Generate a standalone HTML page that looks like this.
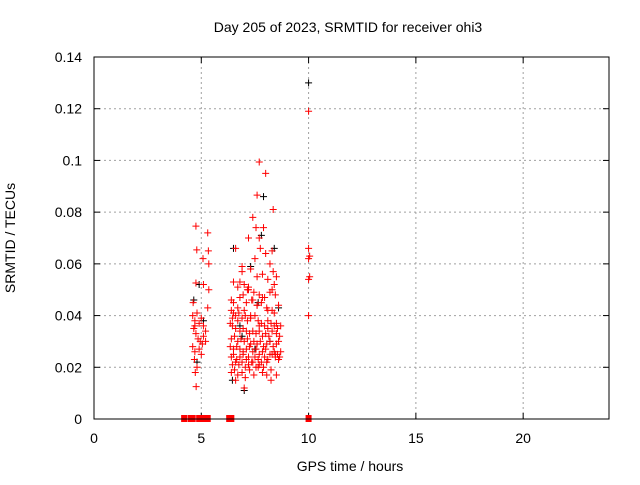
<!DOCTYPE html>
<html><head><meta charset="utf-8"><style>
body{margin:0;background:#fff;}
svg text{font-family:"Liberation Sans",sans-serif;}
</style></head><body>
<svg id="chart" width="640" height="480" xmlns="http://www.w3.org/2000/svg">
<rect width="640" height="480" fill="#fff"/>
<text x="348" y="32" font-size="14" text-anchor="middle">Day 205 of 2023, SRMTID for receiver ohi3</text>
<text x="350" y="471" font-size="14" text-anchor="middle">GPS time / hours</text>
<text transform="translate(15,238) rotate(-90)" font-size="14" text-anchor="middle">SRMTID / TECUs</text>
<g id="grid"></g>
<g id="marks"></g>
<rect x="94" y="57" width="515" height="362" fill="none" stroke="#000" stroke-width="1"/>
</svg>
<script>
const xTicks=[0,5,10,15,20];
const yTicks=[0,0.02,0.04,0.06,0.08,0.1,0.12,0.14];
const yTickLabels=["0","0.02","0.04","0.06","0.08","0.1","0.12","0.14"];
const zeroHours=[4.2,4.5,4.6,4.9,5.05,5.3,6.3,6.4,10.0];
const redHours=[4.75,4.79,5.3,5.33,5.08,5.35,4.75,5.1,5.35,4.62,5.3,4.6,4.7,4.8,4.9,5.0,5.1,5.2,4.65,4.75,4.85,4.95,5.05,4.6,4.7,4.9,5.0,5.2,4.68,4.8,5.1,4.72,4.76,4.7,
7.7,8.0,7.6,8.35,7.4,7.55,7.9,7.7,7.2,7.75,8.0,8.3,7.5,8.2,8.35,6.6,6.9,7.3,7.6,7.85,8.1,8.4,8.5,6.5,6.7,7.0,7.2,7.45,7.7,7.95,8.2,8.45,6.4,6.8,7.1,7.35,7.6,7.8,8.05,8.3,8.6,
6.4,6.5,6.6,6.75,6.9,7.05,7.15,7.3,7.5,7.65,7.8,7.95,8.1,8.25,8.4,8.55,8.7,6.35,6.45,6.6,6.8,6.95,7.1,7.25,7.4,7.55,7.7,7.85,8.0,8.15,8.3,8.5,8.65,
6.4,6.55,6.7,6.85,7.0,7.15,7.3,7.45,7.6,7.75,7.9,8.05,8.2,8.35,8.5,8.6,6.35,6.5,6.65,6.8,6.95,7.1,7.25,7.4,7.55,7.7,7.85,8.0,8.2,8.4,8.55,8.7,
6.4,6.5,6.65,6.8,6.95,7.1,7.2,7.35,7.5,7.65,7.8,7.95,8.1,8.3,8.45,8.6,6.45,6.6,6.75,6.9,7.05,7.2,7.4,7.55,7.7,7.9,8.05,8.25,8.45,8.65,
6.4,6.55,6.7,6.9,7.05,7.25,7.45,7.65,7.85,8.05,8.25,8.5,6.5,6.7,6.95,7.15,7.4,7.6,7.85,8.1,8.4,6.45,6.7,7.0,7.3,7.7,8.1,8.5,6.6,7.0,6.8,7.2,8.3,6.9,
10.0,10.0,10.05,10.0,10.05,10.0,10.0];
const redValues=[0.0746,0.0654,0.072,0.065,0.062,0.060,0.0526,0.052,0.050,0.045,0.043,0.040,0.038,0.041,0.037,0.039,0.036,0.034,0.035,0.033,0.031,0.030,0.029,0.028,0.026,0.027,0.025,0.030,0.023,0.020,0.032,0.018,0.0125,0.036,
0.0994,0.095,0.0866,0.081,0.078,0.074,0.074,0.070,0.070,0.066,0.064,0.065,0.062,0.060,0.057,0.066,0.059,0.058,0.055,0.056,0.054,0.052,0.055,0.053,0.051,0.052,0.050,0.049,0.048,0.047,0.049,0.048,0.046,0.047,0.045,0.046,0.044,0.045,0.043,0.042,0.044,
0.042,0.041,0.040,0.041,0.039,0.040,0.038,0.039,0.040,0.038,0.037,0.036,0.038,0.037,0.036,0.035,0.036,0.037,0.036,0.035,0.034,0.035,0.034,0.033,0.034,0.033,0.034,0.032,0.033,0.032,0.034,0.033,0.032,
0.031,0.032,0.030,0.031,0.030,0.031,0.029,0.030,0.029,0.030,0.028,0.029,0.030,0.028,0.029,0.030,0.028,0.027,0.028,0.027,0.026,0.027,0.028,0.026,0.027,0.025,0.026,0.027,0.025,0.026,0.025,0.026,
0.024,0.025,0.023,0.024,0.025,0.023,0.024,0.022,0.024,0.023,0.022,0.024,0.023,0.025,0.024,0.023,0.021,0.022,0.021,0.022,0.020,0.021,0.022,0.020,0.021,0.020,0.022,0.019,0.025,0.024,
0.018,0.019,0.017,0.018,0.016,0.019,0.017,0.020,0.018,0.017,0.015,0.017,0.045,0.043,0.048,0.050,0.046,0.044,0.047,0.042,0.041,0.039,0.038,0.042,0.040,0.036,0.035,0.037,0.015,0.012,0.053,0.051,0.050,0.057,
0.119,0.066,0.063,0.062,0.055,0.054,0.040];
const blackHours=[10.0,7.9,7.8,6.5,4.9,5.1,4.65,7.3,7.65,8.4,6.9,6.45,7.0,8.6,7.5,6.8,8.2,4.8];
const blackValues=[0.130,0.086,0.071,0.066,0.052,0.038,0.046,0.059,0.045,0.066,0.032,0.015,0.011,0.043,0.027,0.036,0.030,0.022];
const X0=94,X1=609,Y0=419,Y1=57,XMAX=24,YMAX=0.14;
const sx=v=>X0+(X1-X0)*v/XMAX;
const sy=v=>Y0-(Y0-Y1)*v/YMAX;
const NS="http://www.w3.org/2000/svg";
const grid=document.getElementById('grid'),marks=document.getElementById('marks');
function mk(t,a,p){const e=document.createElementNS(NS,t);for(const k in a)e.setAttribute(k,a[k]);p.appendChild(e);return e;}
xTicks.forEach(t=>{
 const x=sx(t);
 if(t>0){const g=mk('line',{x1:x,y1:Y0,x2:x,y2:Y1,stroke:'#a0a0a0','stroke-dasharray':'2,3'},grid);
 
 }
 mk('line',{x1:x,y1:Y0,x2:x,y2:Y0-6,stroke:'#000'},grid);
 mk('line',{x1:x,y1:Y1,x2:x,y2:Y1+6,stroke:'#000'},grid);
 const l=mk('text',{x:x,y:443,'font-size':14,'text-anchor':'middle'},grid);l.textContent=t;
 
 
});
yTicks.forEach((t,i)=>{
 const y=sy(t);
 if(t>0&&t<YMAX){const g=mk('line',{x1:X0,y1:y,x2:X1,y2:y,stroke:'#a0a0a0','stroke-dasharray':'2,3'},grid);
 
 }
 mk('line',{x1:X0,y1:y,x2:X0+6,y2:y,stroke:'#000'},grid);
 mk('line',{x1:X1,y1:y,x2:X1-6,y2:y,stroke:'#000'},grid);
 const l=mk('text',{x:82,y:y+5,'font-size':14,'text-anchor':'end'},grid);l.textContent=yTickLabels[i];
 
 
});
function plus(h,v,c,name){
 const x=sx(h),y=sy(v);
 const p=mk('path',{d:`M${x-3.5},${y}H${x+3.5}M${x},${y-3.5}V${y+3.5}`,stroke:c,'stroke-width':1,fill:'none'},marks);
 
 
}
blackHours.forEach((h,i)=>plus(h,blackValues[i],'#000','black-point'));
redHours.forEach((h,i)=>plus(h,redValues[i],'#f00','red-point'));
zeroHours.forEach(h=>{
 const r=mk('rect',{x:sx(h)-3,y:Y0-4,width:6,height:7,fill:'#f00'},marks);
 
 
});
</script>
</body></html>
